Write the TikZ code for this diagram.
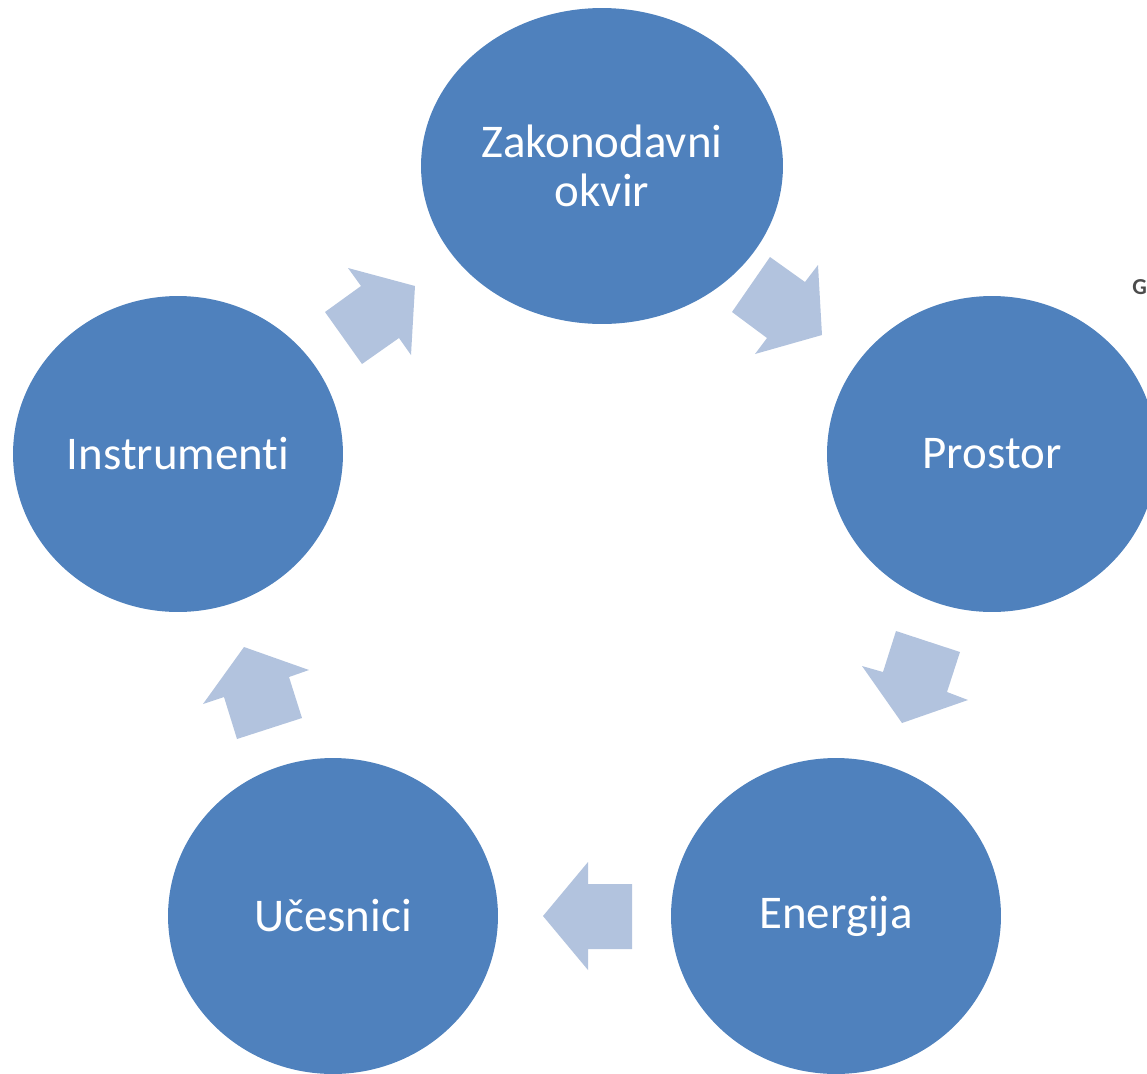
\documentclass[tikz,border=0pt]{standalone}
\usepackage{fontspec}
\setmainfont[Ligatures={NoCommon}]{Carlito}
\usetikzlibrary{shapes.geometric}

\definecolor{circblue}{HTML}{4F81BD}
\definecolor{arrblue}{HTML}{B2C3DE}

\tikzset{
	stage/.style={ellipse, fill=circblue, text=white, inner sep=0pt,
		minimum width=6.6cm, minimum height=6.32cm, align=center,
		font=\fontsize{26.7}{28}\selectfont},
	blockarrow/.style={fill=arrblue}
}

\begin{document}
\begin{tikzpicture}[x=0.02cm, y=-0.02cm]
	\useasboundingbox (0, 0) rectangle (1147, 1073);

	\node[stage, minimum width=7.24cm] (zakon) at (602, 166) {Zakonodavni\\okvir};
	\node[stage] (prostor) at (992, 454) {Prostor};
	\node[stage] (energija) at (836, 916) {Energija};
	\node[stage] (ucesnici) at (333, 916) {Učesnici};
	\node[stage] (instr) at (178, 454) {Instrumenti};

	\fill[blockarrow] (325, 312) -- (361, 286) -- (348, 268) -- (415, 286) -- (411, 355) -- (399, 338) -- (362, 364) -- cycle;
	\fill[blockarrow] (732, 312) -- (770, 257) -- (805, 282) -- (818, 265) -- (822, 335) -- (755, 354) -- (767, 338) -- cycle;
	\fill[blockarrow] (896, 631) -- (960, 652) -- (947, 692) -- (968, 700) -- (902, 723) -- (862, 666) -- (883, 672) -- cycle;
	\fill[blockarrow] (632, 884) -- (588, 884) -- (588, 862) -- (543, 916) -- (588, 970) -- (588, 949) -- (632, 949) -- cycle;
	\fill[blockarrow] (237, 739) -- (302, 718) -- (289, 677) -- (309, 670) -- (244, 647) -- (203, 704) -- (224, 697) -- cycle;

	\node[gray!60!black, font=\fontsize{13}{13}\bfseries, anchor=west, inner sep=0pt] (gfrag) at (1132, 287) {G};

\end{tikzpicture}
\end{document}
